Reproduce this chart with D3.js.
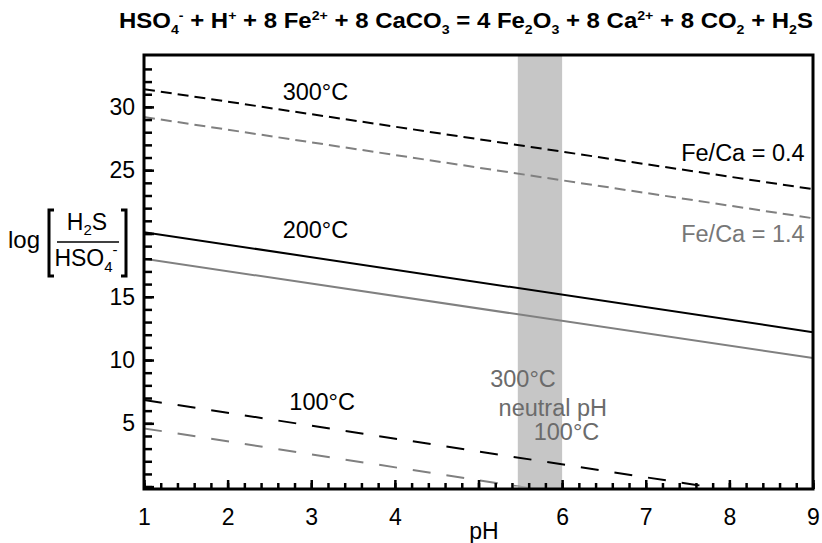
<!DOCTYPE html>
<html>
<head>
<meta charset="utf-8">
<script src="https://cdn.jsdelivr.net/npm/d3@7"></script>
<style>
  body { margin: 0; background: #fff; }
  svg text { font-family: "Liberation Sans", Arial, sans-serif; }
</style>
</head>
<body>
<div id="chart"></div>
<script>
(function(){
    var width = 822;
    var height = 543;

    // data
    var temps = ["300°C", "200°C", "100°C"];
    var ratios = ["Fe/Ca = 0.4", "Fe/Ca = 1.4"];
    var phEnds = [1, 9];
    var logLow = [[31.4, 23.5], [20.1, 12.2], [6.85, -1.3]];     // Fe/Ca = 0.4
    var logHigh = [[29.2, 21.2], [18.0, 10.15], [4.6, -3.6]];    // Fe/Ca = 1.4
    var neutralPH = [5.47, 6.0];
    var xTickLabels = [1, 2, 3, 4, 6, 7, 8, 9];
    var yTickLabels = [5, 10, 15, 25, 30];

    var svg = d3.select("#chart")
        .append("svg")
        .attr("width", width)
        .attr("height", height);

    var x = d3.scaleLinear().domain([1, 9]).range([144, 813]);
    var y = d3.scaleLinear().domain([-0.19, 34.1]).range([489, 55]);

    svg.append("defs").append("clipPath")
        .attr("id", "plot")
        .append("rect")
        .attr("x", x(1))
        .attr("y", y(34.1))
        .attr("width", x(9) - x(1))
        .attr("height", y(0) - y(34.1));

    // neutral pH band
    svg.append("rect")
        .attr("x", x(neutralPH[0]))
        .attr("y", y(34.1))
        .attr("width", x(neutralPH[1]) - x(neutralPH[0]))
        .attr("height", y(-0.19) - y(34.1))
        .attr("fill", "#c6c6c6");

    var dashes = ["11,6", null, "18,16"];
    var line = d3.line()
        .x(function(d){ return x(d[0]) })
        .y(function(d){ return y(d[1]) });

    var lines = svg.append("g").attr("clip-path", "url(#plot)");
    [[logHigh, "#808080"], [logLow, "#000"]].forEach(function(s){
        s[0].forEach(function(v, i){
            lines.append("path")
                .datum(phEnds.map(function(p, j){ return [p, v[j]] }))
                .attr("d", line)
                .attr("fill", "none")
                .attr("stroke", s[1])
                .attr("stroke-width", 2)
                .attr("stroke-dasharray", dashes[i]);
        });
    });

    // axes, ticks pointing inward
    function styleAxis(g) {
        g.select(".domain").remove();
        g.selectAll(".tick line").attr("stroke", "#000").attr("stroke-width", 2.5);
        g.selectAll("text").attr("font-size", 23).attr("fill", "#000")
            .attr("font-family", "Liberation Sans, Arial, sans-serif");
    }

    svg.append("g")
        .attr("transform", "translate(0," + y(-0.19) + ")")
        .call(d3.axisBottom(x).tickValues(d3.range(1, 9.01, 0.2)).tickSize(-6).tickFormat(""))
        .call(styleAxis);
    svg.append("g")
        .attr("transform", "translate(0," + y(-0.19) + ")")
        .call(d3.axisBottom(x).tickValues(d3.range(1, 10)).tickSize(-9).tickPadding(20)
            .tickFormat(function(d){ return xTickLabels.indexOf(d) >= 0 ? d : "" }))
        .call(styleAxis);

    svg.append("g")
        .attr("transform", "translate(" + x(1) + ",0)")
        .call(d3.axisLeft(y).tickValues(d3.range(0, 34, 1)).tickSize(-8).tickFormat(""))
        .call(styleAxis);
    svg.append("g")
        .attr("transform", "translate(" + x(1) + ",0)")
        .call(d3.axisLeft(y).tickValues([0, 5, 10, 15, 20, 25, 30]).tickSize(-10).tickPadding(9)
            .tickFormat(function(d){ return yTickLabels.indexOf(d) >= 0 ? d : "" }))
        .call(styleAxis);

    svg.append("rect")
        .attr("x", x(1))
        .attr("y", y(34.1))
        .attr("width", x(9) - x(1))
        .attr("height", y(-0.19) - y(34.1))
        .attr("fill", "none")
        .attr("stroke", "#000")
        .attr("stroke-width", 3);

    svg.append("text")
        .attr("x", 484).attr("y", 539)
        .attr("text-anchor", "middle")
        .attr("font-size", 23)
        .text("pH");

    // curve labels
    function label(px, py, txt, color, anchor) {
        svg.append("text")
            .attr("x", x(px)).attr("y", y(py))
            .attr("text-anchor", anchor || "middle")
            .attr("font-size", 23.5)
            .attr("fill", color)
            .text(txt);
    }
    label(3.05, 30.54, temps[0], "#000");
    label(3.05, 19.64, temps[1], "#000");
    label(3.13, 6.05, temps[2], "#000");
    label(8.9, 25.72, ratios[0], "#000", "end");
    label(8.9, 19.32, ratios[1], "#777", "end");
    label(5.14, 7.87, temps[0], "#6b6b6b", "start");
    label(5.24, 5.6, "neutral pH", "#6b6b6b", "start");
    label(5.66, 3.68, temps[2], "#6b6b6b", "start");

    // y axis label: log[H2S / HSO4-]
    var yl = svg.append("g").attr("transform", "translate(0,12)");
    yl.append("text").attr("x", 40).attr("y", 236).attr("text-anchor", "end")
        .attr("font-size", 24).text("log");
    var num = yl.append("text").attr("x", 87).attr("y", 218).attr("text-anchor", "middle").attr("font-size", 23);
    num.append("tspan").text("H");
    num.append("tspan").attr("font-size", 15).attr("dy", 5).text("2");
    num.append("tspan").attr("dy", -5).text("S");
    var den = yl.append("text").attr("x", 86).attr("y", 254).attr("text-anchor", "middle").attr("font-size", 23);
    den.append("tspan").text("HSO");
    den.append("tspan").attr("font-size", 15).attr("dy", 6).text("4");
    den.append("tspan").attr("font-size", 15).attr("dy", -17).text("-");
    yl.append("line").attr("x1", 57).attr("x2", 119).attr("y1", 230).attr("y2", 230)
        .attr("stroke", "#000").attr("stroke-width", 1.5);
    yl.append("path").attr("d", "M54,198H49V264H54").attr("fill", "none").attr("stroke", "#000").attr("stroke-width", 3);
    yl.append("path").attr("d", "M121,198H126V264H121").attr("fill", "none").attr("stroke", "#000").attr("stroke-width", 3);

    // title
    var title = svg.append("text")
        .attr("x", 119).attr("y", 28)
        .attr("font-size", 22)
        .attr("font-weight", "bold")
        .attr("textLength", 694)
        .attr("lengthAdjust", "spacingAndGlyphs");
    var parts = [
        ["HSO"], ["4", "sub"], ["-", "sup"], [" + H"], ["+", "sup"], [" + 8 Fe"], ["2+", "sup"],
        [" + 8 CaCO"], ["3", "sub"], [" = 4 Fe"], ["2", "sub"], ["O"], ["3", "sub"],
        [" + 8 Ca"], ["2+", "sup"], [" + 8 CO"], ["2", "sub"], [" + H"], ["2", "sub"], ["S"]
    ];
    var shift = 0;
    parts.forEach(function(p){
        var target = p[1] === "sub" ? 6 : p[1] === "sup" ? -8 : 0;
        var t = title.append("tspan")
            .attr("dy", target - shift)
            .text(p[0]);
        if (p[1]) t.attr("font-size", 13);
        shift = target;
    });
})();
</script>
</body>
</html>
